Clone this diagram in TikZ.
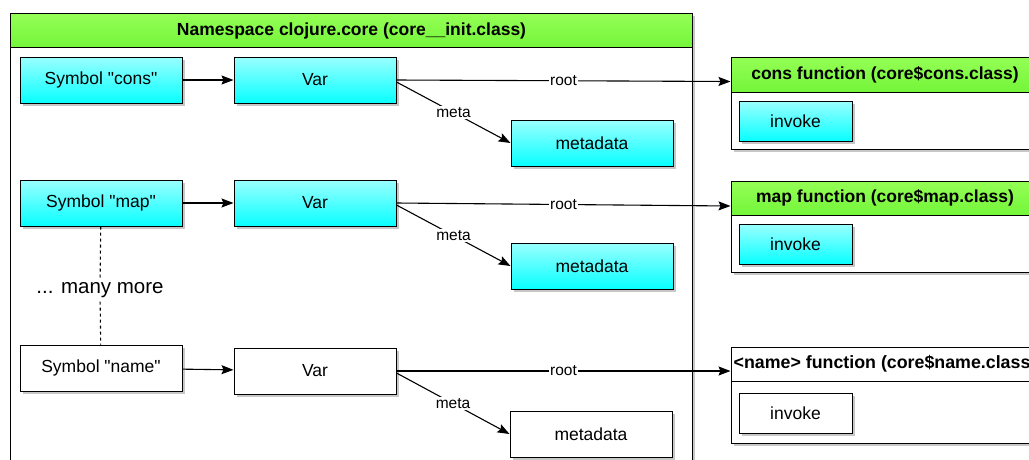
\documentclass[tikz,border=0pt]{standalone}
\usepackage{fontspec}
\setmainfont{Liberation Sans}
\usetikzlibrary{arrows.meta,shadows}

\definecolor{cyanTop}{HTML}{9AFFFF}
\definecolor{cyanBot}{HTML}{08FFFF}
\definecolor{limeTop}{HTML}{94FF55}
\definecolor{limeBot}{HTML}{74F53A}

\tikzset{
  boxed/.style={draw, line width=1pt, minimum height=46pt, minimum width=162pt,
    font=\fontsize{17.5}{20}\selectfont,
    drop shadow={shadow xshift=3pt, shadow yshift=-3pt, fill=black!22, opacity=1}},
  cyanbox/.style={boxed, top color=cyanTop, bottom color=cyanBot},
  whitebox/.style={boxed, fill=white},
  header/.style={draw, line width=1pt, top color=limeTop, bottom color=limeBot,
    font=\bfseries\fontsize{17.5}{20}\selectfont, inner sep=0pt},
  plainheader/.style={draw, line width=1pt, fill=white,
    font=\bfseries\fontsize{17.8}{20}\selectfont, inner sep=0pt},
  edgelabel/.style={fill=white, inner sep=1pt, font=\fontsize{15.5}{17}\selectfont},
  container/.style={draw, line width=1pt, fill=white,
    drop shadow={shadow xshift=3pt, shadow yshift=-3pt, fill=black!22, opacity=1}}
}

\newcommand{\qt}[1]{\textquotedbl#1\textquotedbl}

\begin{document}
\begin{tikzpicture}[x=1pt, y=-1pt, >={Stealth[length=12pt,width=9pt,inset=2pt]}, line width=1.1pt]

  \useasboundingbox (0,0) rectangle (1029,459);
  \clip (0,0) rectangle (1029,459);

  % Namespace container
  \draw[container] (10,13) rectangle (692,480);
  \node[header, minimum width=682pt, minimum height=34pt, anchor=north west]
    (ns) at (10,13) {Namespace clojure.core (core\_\_init.class)};

  % Function containers on the right
  \draw[container] (731,57) rectangle (1045,149);
  \node[header, minimum width=308pt, minimum height=35pt] (fncons) at (885,74.5)
    {cons function (core\$cons.class)};
  \node[cyanbox, minimum width=113pt, minimum height=40pt] (invcons) at (795.5,121) {invoke};

  \draw[container] (731,181) rectangle (1045,272);
  \node[header, minimum width=308pt, minimum height=34pt] (fnmap) at (885,198)
    {map function (core\$map.class)};
  \node[cyanbox, minimum width=113pt, minimum height=40pt] (invmap) at (795.5,244) {invoke};

  \draw[container] (731,347) rectangle (1045,443);
  \node[plainheader, minimum width=308pt, minimum height=34pt] (fnname) at (885,364)
    {<name> function (core\$name.class)};
  \node[whitebox, minimum width=113pt, minimum height=40pt] (invname) at (795.5,413) {invoke};

  % Symbols, vars and metadata
  \node[cyanbox] (symcons) at (101,80) {Symbol \qt{cons}};
  \node[cyanbox] (varcons) at (315,80) {Var};
  \node[cyanbox] (metacons) at (592,143) {metadata};

  \node[cyanbox] (symmap) at (101,203) {Symbol \qt{map}};
  \node[cyanbox] (varmap) at (315,203) {Var};
  \node[cyanbox] (metamap) at (592,266) {metadata};

  \node[whitebox] (symname) at (101,368) {Symbol \qt{name}};
  \node[whitebox] (varname) at (315,371) {Var};
  \node[whitebox] (metaname) at (591,434) {metadata};

  \node[font=\fontsize{20.5}{24}\selectfont] (more) at (100,290) {... many more};

  % Connectors
  \foreach \row/\dy in {cons/-7, map/-8, name/-7} {
    \draw[->] (sym\row) -- (var\row);
    \draw[->] (var\row.east) -- node[edgelabel] {root} ([yshift=\dy pt]fn\row.west);
    \draw[->] ([yshift=-2pt]var\row.east) -- node[edgelabel] {meta} (meta\row.west);
  }

  \draw[dashed] (symmap) -- (more);
  \draw[dashed] (more) -- (symname);

\end{tikzpicture}
\end{document}
